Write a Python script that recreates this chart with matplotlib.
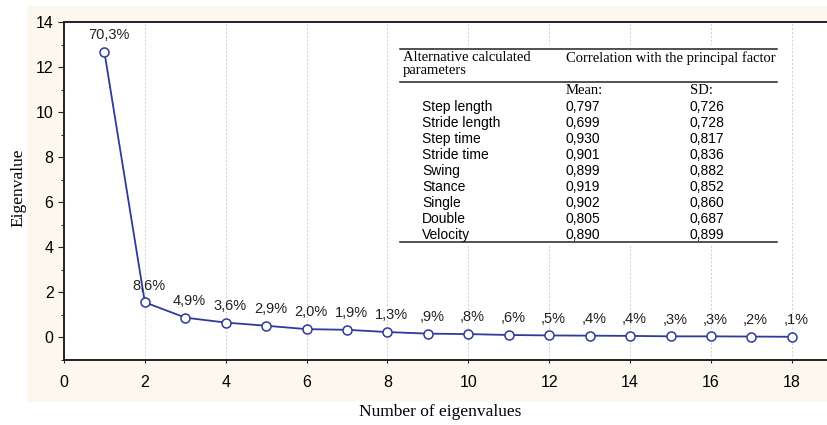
import matplotlib.pyplot as plt
from matplotlib.patches import Rectangle
import numpy as np

# scree plot values
factor = np.arange(1, 19)
eigen = [12.66, 1.56, 0.88, 0.66, 0.52, 0.37, 0.34, 0.24, 0.17,
         0.15, 0.11, 0.09, 0.08, 0.07, 0.05, 0.05, 0.04, 0.03]
pct = ['70,3%', '8,6%', '4,9%', '3,6%', '2,9%', '2,0%', '1,9%', '1,3%', ',9%',
       ',8%', ',6%', ',5%', ',4%', ',4%', ',3%', ',3%', ',2%', ',1%']

# inset table
params = ['Step length', 'Stride length', 'Step time', 'Stride time', 'Swing',
          'Stance', 'Single', 'Double', 'Velocity']
mean_r = ['0,797', '0,699', '0,930', '0,901', '0,899', '0,919', '0,902', '0,805', '0,890']
sd_r = ['0,726', '0,728', '0,817', '0,836', '0,882', '0,852', '0,860', '0,687', '0,899']

W, H = 827, 425
blue = '#2e3a9c'
sans = 'Liberation Sans'
serif = 'Liberation Serif'

fig = plt.figure(figsize=(W / 100, H / 100), dpi=100)


def fx(px):
    return px / W


def fy(py):
    return 1 - py / H


fig.patches.append(Rectangle((fx(27), fy(402)), 1 - fx(27), fy(6) - fy(402),
                             transform=fig.transFigure, facecolor='#fcf8ed',
                             edgecolor='none', zorder=-5))

ax = fig.add_axes([fx(64), fy(360), 1 - fx(64), fy(22) - fy(360)])
ax.set_facecolor('white')
ax.plot(factor, eigen, '-', color=blue, lw=1.3, marker='o', ms=6.5,
        mfc='white', mec=blue, mew=1.1, zorder=3)
for x, y, t in zip(factor, eigen, pct):
    ax.annotate(t, (x, y), xytext=(3, 7), textcoords='offset points',
                ha='center', va='bottom', fontsize=10.5, family=sans, color='#222222')

ax.set_xlim(0, 18.87)
ax.set_ylim(-1, 14)
ax.set_xticks(np.arange(0, 19, 2))
ax.set_yticks(np.arange(0, 15, 2))
ax.set_yticks(np.arange(-1, 14, 2), minor=True)
ax.tick_params(axis='both', labelsize=11.5, direction='out', length=4, color='#222222')
ax.tick_params(axis='y', which='minor', length=2.5)
ax.tick_params(axis='x', length=2, pad=9)
for lab in ax.get_xticklabels() + ax.get_yticklabels():
    lab.set_family(sans)
ax.xaxis.grid(True, ls=(0, (2, 2)), color='#cfcfcf', lw=0.7)
ax.set_axisbelow(True)
ax.spines['right'].set_visible(False)
for s in ['left', 'top', 'bottom']:
    ax.spines[s].set_linewidth(1.4)
    ax.spines[s].set_color('#222222')

fig.text(fx(18), fy(188), 'Eigenvalue', rotation=90, ha='center', va='center',
         fontsize=12.5, family=serif)
fig.text(fx(440), fy(412), 'Number of eigenvalues', ha='center', va='center',
         fontsize=12.5, family=serif)

# table drawn over the plot
fig.patches.append(Rectangle((fx(400), fy(246)), fx(777) - fx(400), fy(45) - fy(246),
                             transform=fig.transFigure, facecolor='white',
                             edgecolor='none', zorder=4))
for py in [49, 82, 242]:
    fig.add_artist(plt.Line2D([fx(400), fx(777)], [fy(py), fy(py)], color='#222222',
                              lw=1.1, transform=fig.transFigure, zorder=5))
fig.text(fx(403), fy(51), 'Alternative calculated\nparameters', ha='left', va='top',
         fontsize=10.5, family=serif, linespacing=1.0, zorder=6)
fig.text(fx(566), fy(51), 'Correlation with the principal factor', ha='left', va='top',
         fontsize=10.5, family=serif, zorder=6)
fig.text(fx(566), fy(90), 'Mean:', ha='left', va='center', fontsize=10.5, family=serif, zorder=6)
fig.text(fx(690), fy(90), 'SD:', ha='left', va='center', fontsize=10.5, family=serif, zorder=6)
for i, (p, m, s) in enumerate(zip(params, mean_r, sd_r)):
    py = 107 + i * 16
    fig.text(fx(422), fy(py), p, ha='left', va='center', fontsize=10, family=sans, zorder=6)
    fig.text(fx(566), fy(py), m, ha='left', va='center', fontsize=10, family=sans, zorder=6)
    fig.text(fx(690), fy(py), s, ha='left', va='center', fontsize=10, family=sans, zorder=6)

fig.savefig('out.png', dpi=100)
